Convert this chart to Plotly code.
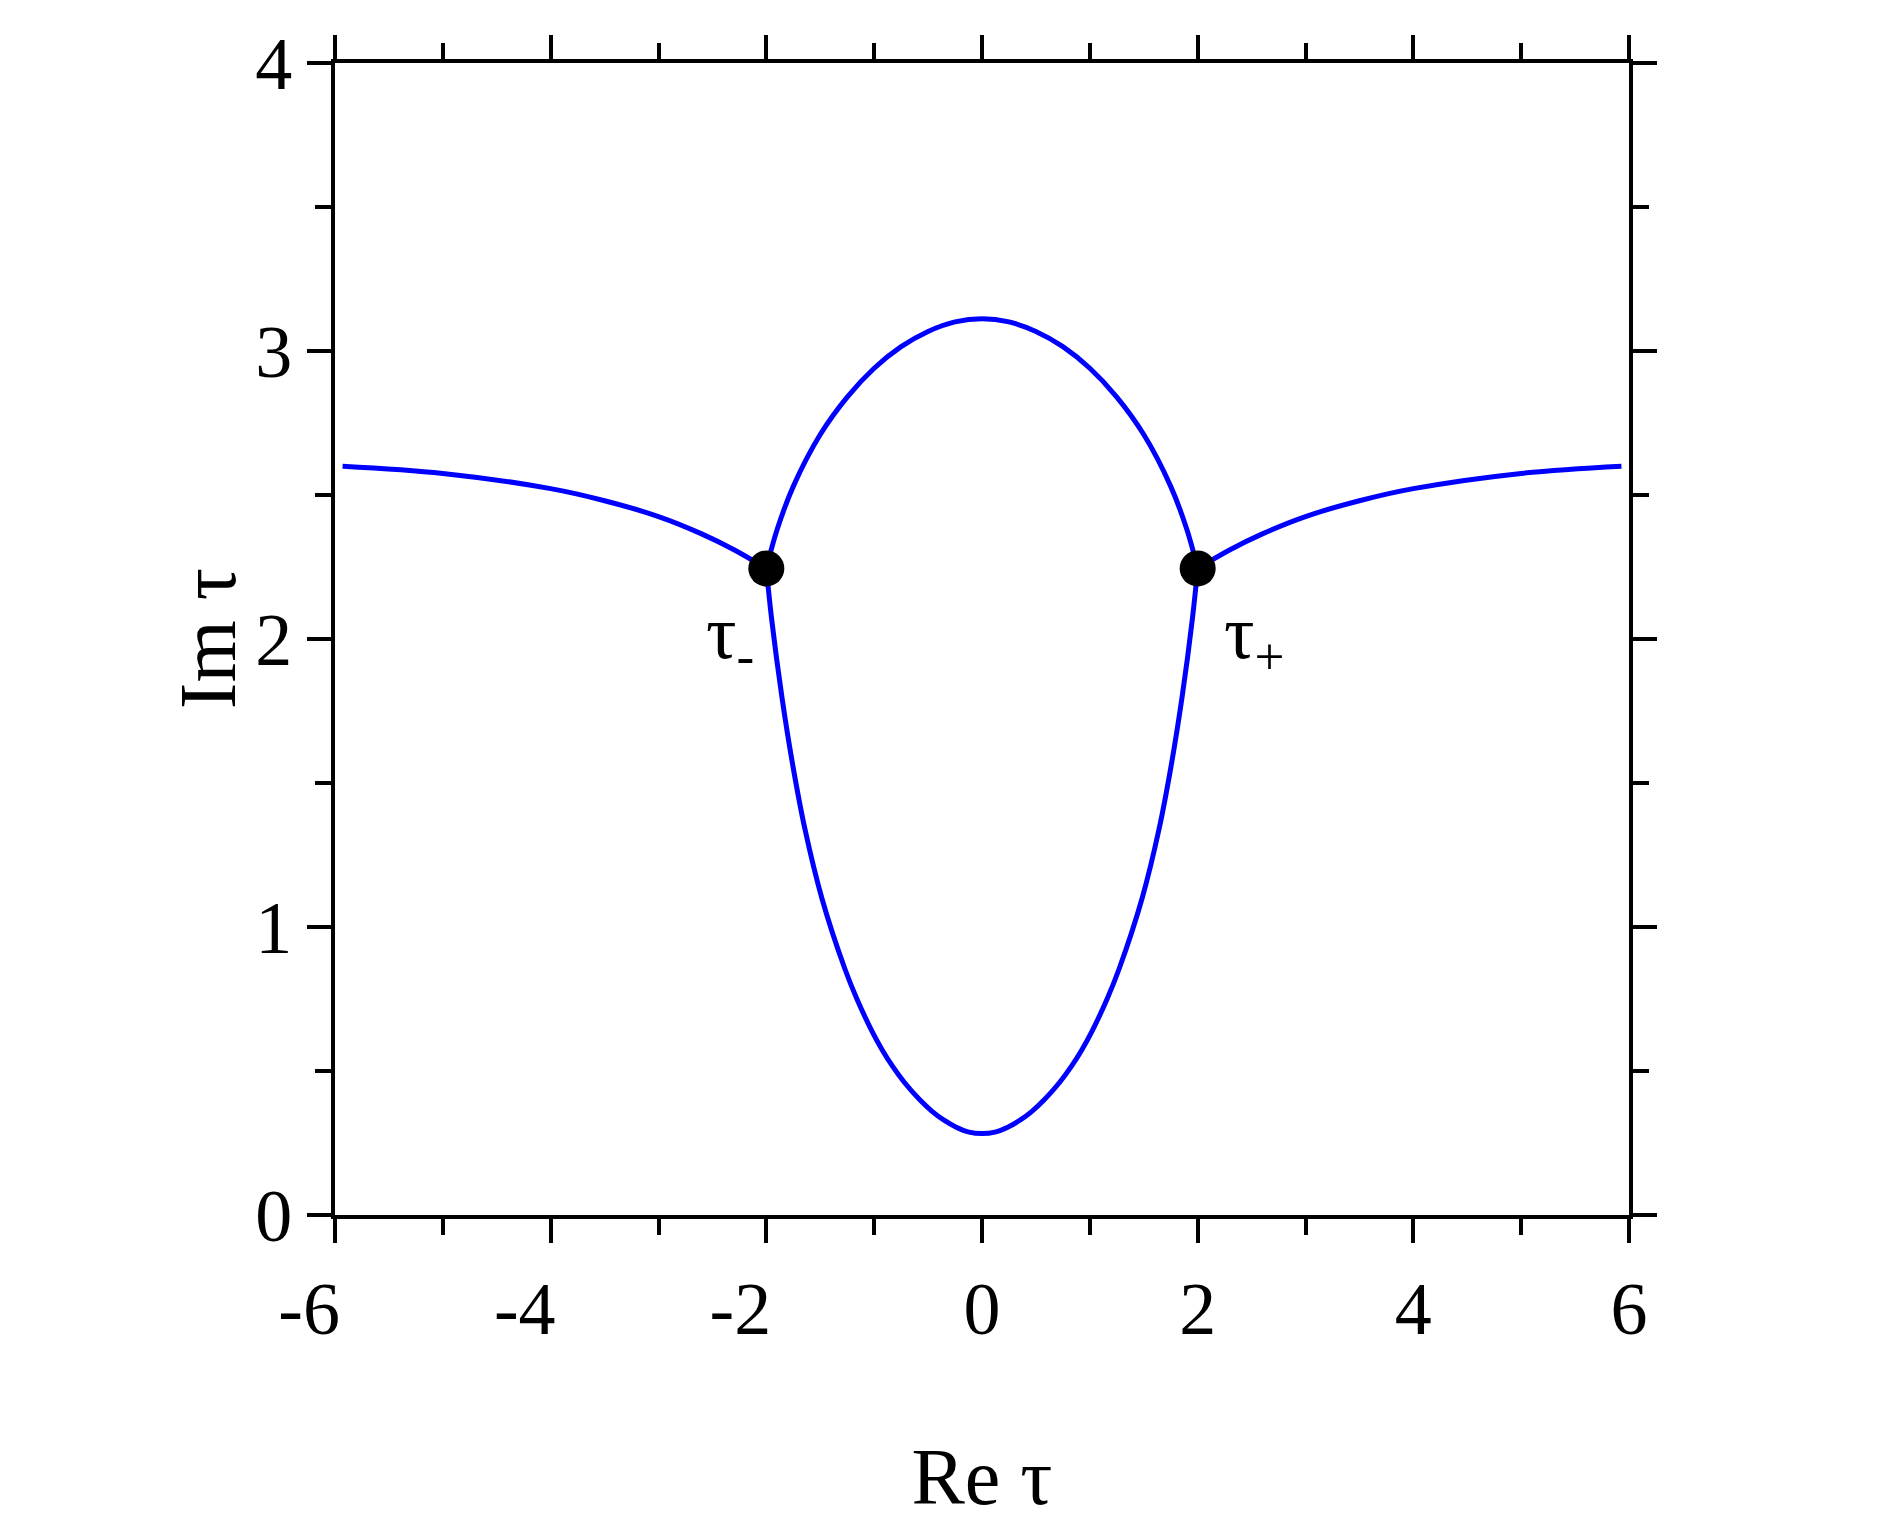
import plotly.graph_objects as go

# side branches (left and right of the branch points)
left_x = [-5.93, -5.0, -4.0, -3.5, -3.0, -2.6, -2.3, -2.0]
left_y = [2.600, 2.575, 2.522, 2.480, 2.425, 2.365, 2.310, 2.245]
right_x = [2.0, 2.3, 2.6, 3.0, 3.5, 4.0, 5.0, 5.93]
right_y = [2.245, 2.310, 2.365, 2.425, 2.480, 2.522, 2.575, 2.600]

# upper arch between the branch points
arch_x = [-2.0, -1.9, -1.75, -1.5, -1.25, -1.0, -0.75, -0.5, -0.25, 0.0,
          0.25, 0.5, 0.75, 1.0, 1.25, 1.5, 1.75, 1.9, 2.0]
arch_y = [2.245, 2.38, 2.53, 2.71, 2.84, 2.94, 3.015, 3.068, 3.101, 3.112,
          3.101, 3.068, 3.015, 2.94, 2.84, 2.71, 2.53, 2.38, 2.245]

# lower loop between the branch points
loop_x = [-2.0, -1.951, -1.856, -1.754, -1.642, -1.485, -1.272, -1.16, -1.016, -0.928, -0.827,
          -0.719, -0.577, -0.463, -0.356, -0.239, -0.12, 0.0,
          0.12, 0.239, 0.356, 0.463, 0.577, 0.719,
          0.827, 0.928, 1.016, 1.16, 1.272, 1.485, 1.642, 1.754, 1.856, 1.951, 2.0]
loop_y = [2.245, 2.07, 1.80, 1.56, 1.34, 1.10, 0.855, 0.75, 0.635, 0.575, 0.515,
          0.46, 0.40, 0.36, 0.33, 0.305, 0.288, 0.283,
          0.288, 0.305, 0.33, 0.36, 0.40, 0.46,
          0.515, 0.575, 0.635, 0.75, 0.855, 1.10, 1.34, 1.56, 1.80, 2.07, 2.245]

# branch points tau_- and tau_+
point_x = [-2.0, 2.0]
point_y = [2.245, 2.245]
point_labels = ["τ<sub>-</sub>", "τ<sub>+</sub>"]

x_ticks = [-6, -4, -2, 0, 2, 4, 6]
y_ticks = [0, 1, 2, 3, 4]

FONT = "Liberation Serif, Times New Roman, serif"
BLUE = "#0000ff"

fig = go.Figure()
for xs, ys in [(left_x, left_y), (arch_x, arch_y), (loop_x, loop_y), (right_x, right_y)]:
    fig.add_trace(go.Scatter(
        x=xs, y=ys,
        mode="lines",
        line=dict(color=BLUE, width=5, shape="spline", smoothing=1.0),
        showlegend=False,
        hoverinfo="skip"
    ))

fig.add_trace(go.Scatter(
    x=point_x, y=point_y,
    mode="markers",
    marker=dict(color="black", size=36),
    showlegend=False
))

fig.add_annotation(x=point_x[0], y=point_y[0] - 0.24, text=point_labels[0],
                   showarrow=False, xanchor="right", yanchor="middle",
                   xshift=-10, font=dict(family=FONT, size=76, color="black"))
fig.add_annotation(x=point_x[1], y=point_y[1] - 0.24, text=point_labels[1],
                   showarrow=False, xanchor="left", yanchor="middle",
                   xshift=24, font=dict(family=FONT, size=76, color="black"))

# y axis title placed by hand so it sits as close to the labels as in the original
fig.add_annotation(x=-0.098, y=0.5, xref="paper", yref="paper", text="Im τ",
                   textangle=-90, showarrow=False, xanchor="center", yanchor="middle",
                   font=dict(family=FONT, size=80, color="black"))

# negative labels: the digit sits on the tick, the minus hangs to the left
x_ticktext = [f"{v}\u2002\u2009" if v < 0 else str(v) for v in x_ticks]

axis_common = dict(
    showgrid=False,
    zeroline=False,
    showline=True,
    linecolor="black",
    linewidth=4,
    mirror="allticks",
    ticks="outside",
    ticklen=24,
    tickwidth=4,
    tickcolor="black",
    tickfont=dict(family=FONT, size=74, color="black"),
)

# page body adds 8px offset, so figure is slightly smaller than the window
fig.update_layout(
    width=1874,
    height=1519,
    margin=dict(l=327, r=253, t=55, b=312),
    plot_bgcolor="white",
    paper_bgcolor="white",
    font=dict(family=FONT, color="black"),
    xaxis=dict(
        axis_common,
        range=[-6, 6],
        tickmode="array",
        tickvals=x_ticks,
        ticktext=x_ticktext,
        minor=dict(dtick=1, ticks="outside", ticklen=16, tickwidth=4, tickcolor="black"),
        ticklabelstandoff=2,
        title=dict(text="Re τ", font=dict(family=FONT, size=80, color="black"), standoff=100),
    ),
    yaxis=dict(
        axis_common,
        range=[0, 4],
        tickmode="array",
        tickvals=y_ticks,
        minor=dict(dtick=0.5, ticks="outside", ticklen=16, tickwidth=4, tickcolor="black"),
        ticklabelstandoff=0,
    ),
)

fig.write_html("out.html")
